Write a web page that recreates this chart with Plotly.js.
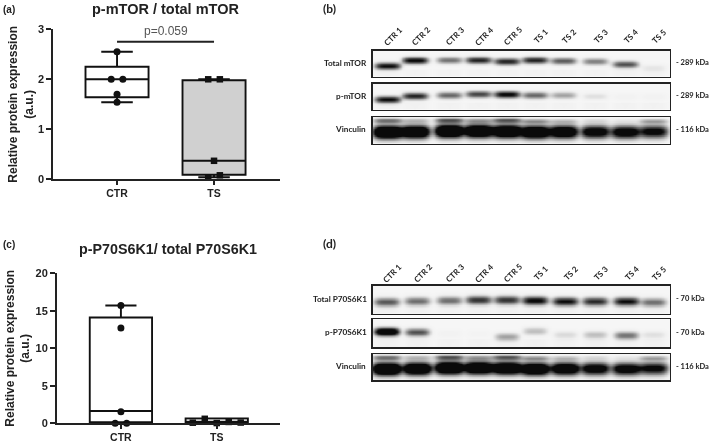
<!DOCTYPE html>
<html><head><meta charset="utf-8">
<script src="https://cdn.plot.ly/plotly-3.0.1.min.js"></script>
<style>html,body{margin:0;padding:0;background:#fff}#c{width:709px;height:443px;filter:blur(0.35px)}</style>
</head><body><div id="c"></div>
<script>
// ---------- box-plot data ----------
const groups = ['CTR','TS'];
const mtorCtrPoints = [2.55,2.0,2.0,1.7,1.54];
const mtorCtrSpread = [0,-0.06,0.06,0,0];
const mtorTsPoints = [2.0,2.0,0.37,0.04,0.08];
const mtorTsSpread = [-0.06,0.06,0,-0.06,0.06];
const mtorCtrBox = {low:1.54,q1:1.64,med:2.0,q3:2.25,high:2.55};
const mtorTsBox = {low:0.04,q1:0.09,med:0.37,q3:1.98,high:2.0};
const p70CtrPoints = [15.7,12.7,1.55,0.0,0.0];
const p70CtrSpread = [0,0,0,-0.06,0.06];
const p70TsPoints = [0.08,0.6,0.03,0.18,0.1];
const p70TsSpread = [-0.25,-0.125,0,0.125,0.25];
const p70CtrBox = {low:0,q1:0.15,med:1.64,q3:14.1,high:15.7};
const p70TsBox = {low:0.03,q1:0.05,med:0.12,q3:0.65,high:0.65};

// ---------- blot data: band darkness and height per lane ----------
const laneNames = ['CTR 1','CTR 2','CTR 3','CTR 4','CTR 5','TS 1','TS 2','TS 3','TS 4','TS 5'];
const laneB = [0.05,0.143,0.257,0.356,0.451,0.546,0.641,0.748,0.849,0.944];
const laneD = [0.047,0.15,0.257,0.356,0.451,0.546,0.647,0.748,0.852,0.944];
const mtorDark = [0.95,1.0,0.5,0.85,0.85,0.85,0.6,0.45,0.65,0.08];
const mtorLevel = [0.58,0.37,0.36,0.36,0.41,0.36,0.39,0.41,0.52,0.65];
const pmtorDark = [0.95,0.85,0.55,0.7,1.0,0.55,0.32,0.1,0.03,0.03];
const pmtorLevel = [0.6,0.47,0.44,0.4,0.41,0.44,0.44,0.48,0.5,0.5];
const vincDark = [2.0,1.8,2.0,1.9,1.9,1.8,1.6,1.3,1.3,1.1];
const vincLevel = [0.56,0.55,0.52,0.52,0.53,0.56,0.55,0.55,0.56,0.54];
const vincUpperDark = [0.5,0.22,0.6,0.32,0.6,0.35,0.2,0.1,0.06,0.3];
const vincUpperLevel = [0.13,0.13,0.12,0.13,0.12,0.15,0.15,0.13,0.13,0.15];
const p70Dark = [0.62,0.52,0.52,0.78,0.78,1.0,0.95,0.82,0.95,0.52];
const p70Level = [0.57,0.54,0.52,0.5,0.5,0.52,0.55,0.55,0.55,0.58];
const pp70Dark = [1.5,0.65,0.03,0.02,0.32,0.22,0.12,0.22,0.5,0.1];
const pp70Level = [0.44,0.46,0.5,0.5,0.62,0.42,0.55,0.55,0.57,0.55];
const kdaB = ['- 289 kDa','- 289 kDa','- 116 kDa'];
const kdaD = ['- 70 kDa','- 70 kDa','- 116 kDa'];

const W=709,H=443;
const dx=(a,b)=>[a/W,b/W], dy=(t,b)=>[1-b/H,1-t/H];
const axisCol='#222', bold={family:'Liberation Sans, Arial, sans-serif',weight:700,color:'#222'};
const lato={family:'Lato, sans-serif',weight:700,color:'#222'};
const layout={width:W,height:H,margin:{l:0,r:0,t:0,b:0},paper_bgcolor:'#fff',plot_bgcolor:'rgba(0,0,0,0)',showlegend:false,annotations:[]};
const data=[];

let axisCount=0;
function nextAxes(){axisCount++;const n=axisCount===1?'':axisCount;return {xk:'xaxis'+n,yk:'yaxis'+n,x:'x'+n,y:'y'+n};}
function chart(xpx,ypx,xr,yr,tick,ctrP,ctrS,tsP,tsS,ctrB,tsB,standoff){
  const a=nextAxes();
  layout[a.xk]={domain:dx(...xpx),range:xr,anchor:a.y,tickmode:'array',tickvals:[1,2],ticktext:groups,showgrid:false,zeroline:false,
    showline:true,linewidth:1.7,linecolor:axisCol,ticks:'outside',ticklen:3.5,tickwidth:1.7,tickcolor:axisCol,tickfont:{...bold,size:10.5}};
  layout[a.yk]={domain:dy(...ypx),range:yr,anchor:a.x,tickmode:'array',tickvals:tick,showgrid:false,zeroline:false,
    showline:true,linewidth:1.7,linecolor:axisCol,ticks:'outside',ticklen:5,tickwidth:1.7,tickcolor:axisCol,tickfont:{...bold,size:11},
    title:{text:'Relative protein expression<br>(a.u.)',font:{...bold,size:12},standoff}};
  [[1,ctrB,'#fff'],[2,tsB,'#d0d0d0']].forEach(([px,b,fill])=>{
    data.push({type:'box',xaxis:a.x,yaxis:a.y,x:[px],q1:[b.q1],median:[b.med],q3:[b.q3],lowerfence:[b.low],upperfence:[b.high],
      width:0.65,whiskerwidth:0.5,boxpoints:false,fillcolor:fill,line:{color:'#111',width:1.9},hoverinfo:'skip'});
  });
  data.push({type:'scatter',mode:'markers',xaxis:a.x,yaxis:a.y,x:ctrS.map(s=>1+s),y:ctrP,cliponaxis:false,marker:{symbol:'circle',size:7,color:'#111'},hoverinfo:'y'});
  data.push({type:'scatter',mode:'markers',xaxis:a.x,yaxis:a.y,x:tsS.map(s=>2+s),y:tsP,cliponaxis:false,marker:{symbol:'square',size:6.5,color:'#111'},hoverinfo:'y'});
  return a;
}
const aA=chart([53,280],[29.3,179.3],[0.34,2.68],[0,3],[0,1,2,3],mtorCtrPoints,mtorCtrSpread,mtorTsPoints,mtorTsSpread,mtorCtrBox,mtorTsBox,2);
data.push({type:'scatter',mode:'lines',xaxis:aA.x,yaxis:aA.y,x:[1,2],y:[2.75,2.75],line:{color:'#222',width:2},hoverinfo:'skip'});
chart([56.7,280],[273.3,423.3],[0.33,2.66],[0,20],[0,5,10,15,20],p70CtrPoints,p70CtrSpread,p70TsPoints,p70TsSpread,p70CtrBox,p70TsBox,3);

function note(text,xp,yp,font,extra){layout.annotations.push(Object.assign({text,x:xp/W,y:1-yp/H,xref:'paper',yref:'paper',showarrow:false,font,xanchor:'center',yanchor:'middle'},extra||{}));}
note('p-mTOR / total mTOR',165.5,8.5,{...bold,size:14.5});
note('p-P70S6K1/ total P70S6K1',168,249.5,{...bold,size:14.3});
note('p=0.059',166,31,{family:'Liberation Sans, Arial, sans-serif',size:12,color:'#555'});
note('(a)',9,9,{...bold,size:10});
note('(c)',9,244,{...bold,size:10});
note('(b)',329.5,8.5,{...lato,size:12});
note('(d)',329.5,243.5,{...lato,size:12});

const gridX=Array.from({length:200},(_,i)=>(i+0.5)/200), gridY=Array.from({length:40},(_,i)=>(i+0.5)/40);
function blot(xpx,ypx,lanes,bands,label,kda,labelX,wy,wx){
  const a=nextAxes();
  const edge={showticklabels:false,ticks:'',showgrid:false,zeroline:false,showline:true,linewidth:1.3,linecolor:'#222',mirror:true};
  layout[a.xk]={...edge,domain:dx(...xpx),range:[0,1],anchor:a.y};
  layout[a.yk]={...edge,domain:dy(...ypx),range:[1,0],anchor:a.x};
  const z=gridY.map(gy=>gridX.map(gx=>{
    let v=0.06;
    lanes.forEach((lx,i)=>{
      const ex=Math.exp(-Math.pow((gx-lx)/wx,4));
      bands.forEach(b=>{ v+=b.dark[i]*ex*Math.exp(-Math.pow((gy-b.level[i])/(b.wy||wy),2)); });
      v+=0.03*ex*(gy>0.7?1:0);
    });
    return Math.min(v,1);
  }));
  data.push({type:'heatmap',xaxis:a.x,yaxis:a.y,x:gridX,y:gridY,z,zmin:0,zmax:1,zsmooth:'best',showscale:false,hoverinfo:'skip',
    colorscale:[[0,'#ffffff'],[0.1,'#f0f0f0'],[0.5,'#808080'],[1,'#0a0a0a']]});
  const ym=(ypx[0]+ypx[1])/2;
  note(label,labelX,ym-1,{...lato,size:8.2});
  note(kda,xpx[1]+3.5,ym-1,{...lato,size:7.5},{xanchor:'left'});
}
function laneLabels(lanes,xpx,yp){
  lanes.forEach((lx,i)=>note(laneNames[i],xpx[0]+lx*(xpx[1]-xpx[0])+6,yp,{...lato,size:8},{textangle:-45}));
}
const xB=[372.5,670];
blot(xB,[50.7,76.7],laneB,[{dark:mtorDark,level:mtorLevel}],'Total mTOR',kdaB[0],345,0.12,0.042);
blot(xB,[83.7,109.7],laneB,[{dark:pmtorDark,level:pmtorLevel}],'p-mTOR',kdaB[1],351,0.12,0.042);
blot(xB,[117,143.7],laneB,[{dark:vincDark,level:vincLevel,wy:0.22},{dark:vincUpperDark,level:vincUpperLevel,wy:0.09}],'Vinculin',kdaB[2],350,0.2,0.047);
laneLabels(laneB,xB,36);
blot(xB,[285.7,314],laneD,[{dark:p70Dark,level:p70Level}],'Total P70S6K1',kdaD[0],340,0.14,0.042);
blot(xB,[319.3,347.3],laneD,[{dark:pp70Dark,level:pp70Level}],'p-P70S6K1',kdaD[1],346,0.13,0.04);
blot(xB,[354,380.3],laneD,[{dark:vincDark,level:vincLevel,wy:0.22},{dark:vincUpperDark,level:vincUpperLevel,wy:0.09}],'Vinculin',kdaD[2],350,0.2,0.047);
laneLabels(laneD,xB,273);

Plotly.newPlot('c',data,layout,{displayModeBar:false,staticPlot:true});
</script>
</body></html>
